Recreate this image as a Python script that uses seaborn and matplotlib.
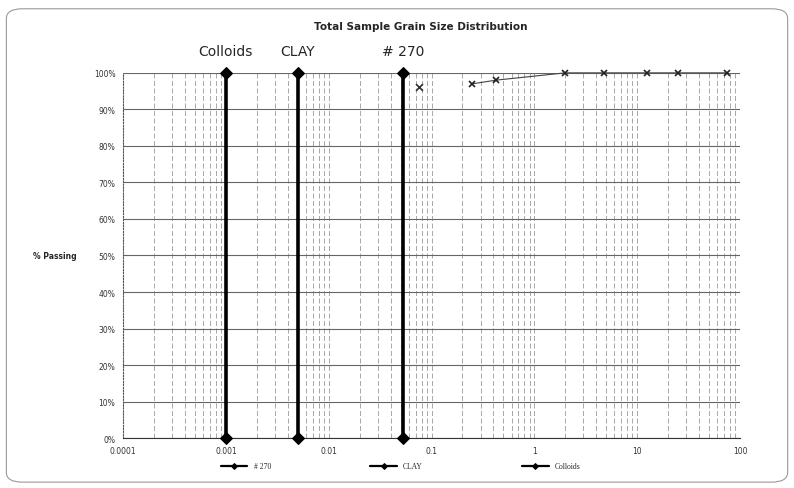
import matplotlib
matplotlib.use("Agg")
import matplotlib.pyplot as plt
import matplotlib.ticker as mticker
from matplotlib.patches import FancyBboxPatch
import seaborn as sns
import pandas as pd
import numpy as np

# boundary lines
bound_names = ["# 270", "CLAY", "Colloids"]
bound_sizes = [0.053, 0.005, 0.001]

# sample data (mm, % passing)
grain_size = [0.075, 0.25, 0.425, 2.0, 4.75, 12.5, 25.0, 75.0]
passing = [96, 97, 98, 100, 100, 100, 100, 100]

y_ticks = list(range(0, 101, 10))
x_ticks = [0.0001, 0.001, 0.01, 0.1, 1, 10, 100]
x_labels = ["0.0001", "0.001", "0.01", "0.1", "1", "10", "100"]

sns.set_style("white")
fig = plt.figure(figsize=(7.94, 4.89), dpi=100)
ax = fig.add_axes([0.155, 0.102, 0.777, 0.747])

# outer rounded frame
fig.patches.append(FancyBboxPatch((0.008, 0.012), 0.984, 0.968, boxstyle="round,pad=0,rounding_size=0.02",
                                  transform=fig.transFigure, fill=False, edgecolor="#999999", lw=0.8))

rows = []
for name, s in zip(bound_names, bound_sizes):
    rows.append({"size": s, "pct": 0, "name": name})
    rows.append({"size": s, "pct": 100, "name": name})
bounds = pd.DataFrame(rows)

for name in bound_names:
    sub = bounds[bounds["name"] == name]
    sns.lineplot(data=sub, x="size", y="pct", ax=ax, color="black", lw=2.6, estimator=None,
                 marker="D", markersize=6, markeredgecolor="black", label=name, sort=False,
                 zorder=4, clip_on=False)

sample = pd.DataFrame({"size": grain_size, "pct": passing})
# first point plotted on its own, the rest joined
sns.scatterplot(data=sample.iloc[:1], x="size", y="pct", ax=ax, marker="x", s=25,
                color="#333333", linewidth=1.2, zorder=5, legend=False)
sns.lineplot(data=sample.iloc[1:], x="size", y="pct", ax=ax, color="#444444", lw=0.8, estimator=None,
             marker="x", markersize=5, markeredgewidth=1.2, markeredgecolor="#222222", zorder=5,
             clip_on=False)

ax.set_xscale("log")
ax.set_xlim(0.0001, 100)
ax.set_ylim(0, 100)
ax.set_xticks(x_ticks)
ax.set_xticklabels(x_labels)
ax.xaxis.set_minor_locator(mticker.LogLocator(base=10, subs=np.arange(2, 10)))
ax.xaxis.set_minor_formatter(mticker.NullFormatter())
ax.set_yticks(y_ticks)
ax.set_yticklabels([f"{v}%" for v in y_ticks])
ax.tick_params(axis="both", labelsize=5.5, length=2, colors="#333333")
ax.grid(True, which="major", axis="y", color="#666666", lw=0.8)
ax.grid(True, which="both", axis="x", color="#999999", lw=0.6, ls=(0, (6, 3)))
for sp in ax.spines.values():
    sp.set_visible(False)
ax.spines["left"].set_visible(True)
ax.spines["left"].set_color("#555555")
ax.spines["left"].set_linestyle(":")
ax.spines["bottom"].set_visible(True)
ax.spines["bottom"].set_color("#333333")
ax.set_xlabel("")
ax.set_ylabel("% Passing", rotation=0, fontsize=5.5, fontweight="bold", labelpad=28, va="center")

fig.text(0.53, 0.945, "Total Sample Grain Size Distribution", ha="center", va="center",
         fontsize=7.5, fontweight="bold")
for name, s in zip(bound_names, bound_sizes):
    ax.text(s, 1.06, name, transform=ax.get_xaxis_transform(), ha="center", va="center", fontsize=10)

handles, labels = ax.get_legend_handles_labels()
leg = ax.legend(handles[:3], labels[:3], loc="center", bbox_to_anchor=(0.45, -0.077), ncol=3,
                frameon=False, prop={"family": "Liberation Serif", "size": 5.5},
                columnspacing=13, handlelength=3.5)
for h in leg.legend_handles:
    h.set_linewidth(1.6)
    h.set_markersize(3)

fig.savefig("out.png", dpi=100)
